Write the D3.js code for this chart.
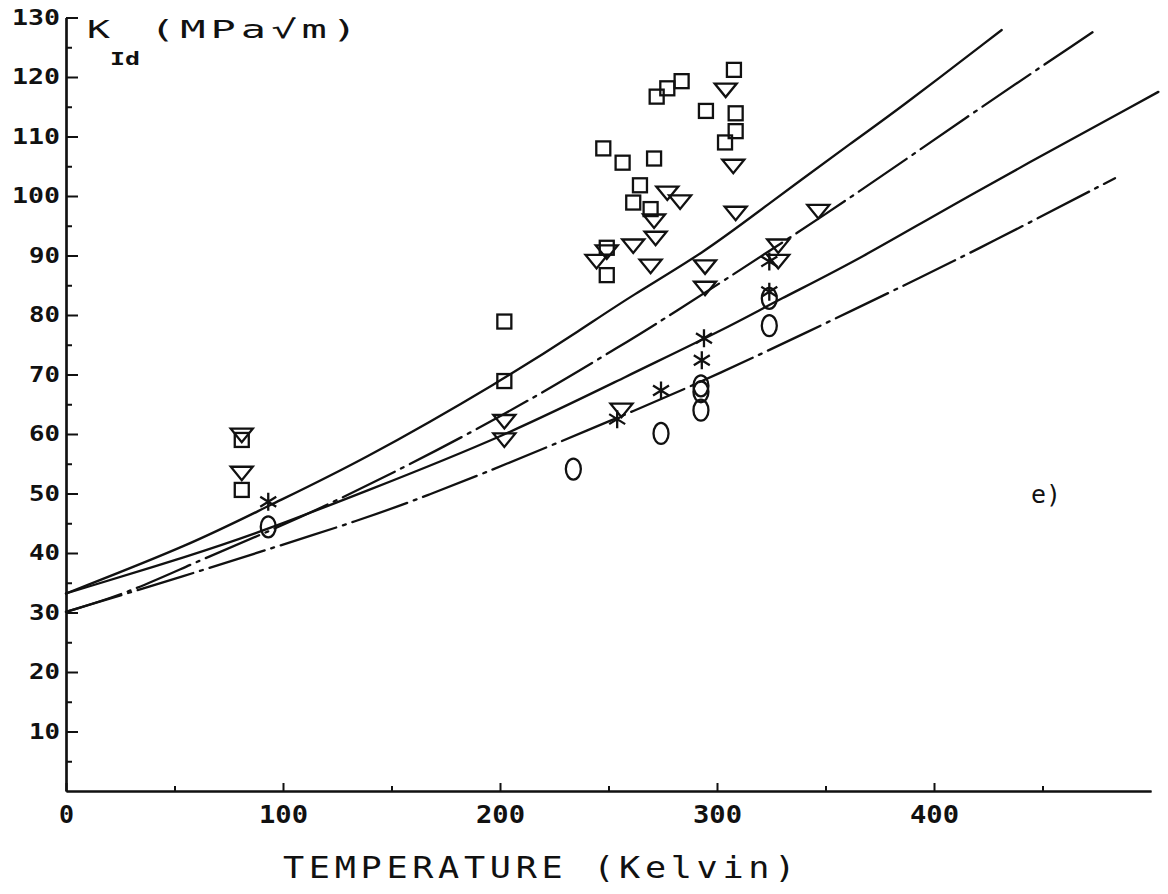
<!DOCTYPE html>
<html>
<head>
<meta charset="utf-8">
<script src="https://cdn.jsdelivr.net/npm/d3@7/dist/d3.min.js"></script>
<style>
  html, body { margin: 0; padding: 0; background: #fff; }
  svg { display: block; }
</style>
</head>
<body>
<svg id="chart" width="1168" height="894"></svg>
<script>
// ---------------- data ----------------
const xTickValues = [0, 100, 200, 300, 400];
const xMinorTicks = [50, 150, 250, 350, 450];
const yTickValues = [10, 20, 30, 40, 50, 60, 70, 80, 90, 100, 110, 120, 130];
const yMinorTicks = [5, 15, 25, 35, 45, 55, 65, 75, 85, 95, 105, 115, 125];

const xTitle = "TEMPERATURE (Kelvin)";
const yTitleMain = "K";
const yTitleSub = "Id";
const yTitleUnit = "(MPa√m)";
const panelLabel = "e)";

// squares [T (K), KId]
const squareData = [
  [81, 59.0], [81, 50.6], [202, 78.9], [202, 68.9],
  [247.6, 108.0], [249.2, 91.3], [249.2, 86.7], [256.5, 105.6],
  [261.4, 98.9], [264.5, 101.8], [269.4, 97.8], [271, 106.3],
  [272.2, 116.7], [277.1, 118.1], [283.7, 119.3], [294.9, 114.3],
  [303.7, 109.0], [308.6, 110.9], [308.6, 113.9], [307.8, 121.2]
];
// downward triangles
const triangleData = [
  [81, 59.8], [81, 53.4], [202, 62.1], [202, 59.0],
  [244.5, 89.0], [249.2, 90.6], [256, 64.0], [261.4, 91.6],
  [269.4, 88.2], [271, 95.8], [271.7, 92.9], [277.1, 100.5],
  [283, 99.0], [294.5, 88.1], [294.5, 84.5], [304, 117.8],
  [307.5, 105.0], [308.6, 97.1], [328.2, 91.6], [328.2, 89.0],
  [346.7, 97.4]
];
// asterisks
const starData = [
  [93.2, 48.6], [254, 62.5], [274.2, 67.3], [293, 72.4],
  [294, 76.1], [324.1, 83.9], [324.1, 89.0]
];
// open ellipses
const circleData = [
  [93.2, 44.4], [233.8, 54.1], [274.2, 60.1], [292.6, 64.0],
  [292.6, 67.1], [292.6, 68.1], [324.1, 78.2], [324.1, 82.8]
];

// fitted curves
const curveUpperSolid = [
  [0, 33.2], [58.7, 41.6], [92.4, 47.8], [135.5, 55.3], [201.5, 69.1],
  [238.4, 77.8], [259.9, 83.1], [294.5, 90.6], [319.8, 97.6], [365.9, 110.0],
  [381.2, 113.9], [431.2, 127.9]
];
const curveUpperDashDot = [
  [0, 30.1], [28, 33.2], [58.7, 38.3], [89.4, 43.0], [127.8, 49.2], [201.5, 62.9],
  [259.9, 75.8], [269.1, 77.8], [353.6, 97.6], [415, 113.3], [473.4, 127.6]
];
const curveLowerSolid = [
  [0, 33.2], [58.7, 39.7], [92.4, 43.9], [135.5, 50.0], [201.5, 59.5],
  [259.9, 70.0], [304.5, 77.8], [327.5, 82.4], [365.9, 89.4],
  [412, 99.3], [503.4, 117.5]
];
const curveLowerDashDot = [
  [0, 30.1], [58.7, 36.6], [89.4, 40.2], [135.5, 45.5], [167.7, 49.8],
  [200, 54.5], [252.2, 62.4], [298.3, 69.6], [364.4, 81.1],
  [419.7, 90.9], [483.4, 103.0]
];

// ---------------- drawing ----------------
const svg = d3.select("#chart");
svg.append("rect").attr("width", 1168).attr("height", 894).attr("fill", "#fff");

const x = d3.scaleLinear().domain([0, 500]).range([66, 1151]);
const y = d3.scaleLinear().domain([0, 130]).range([791, 17.5]);

const INK = "#111";
const monoFont = "'DejaVu Sans Mono', 'Liberation Mono', monospace";

// axes
const yAxis = svg.append("g").attr("transform", `translate(${x(0)},0)`)
  .call(d3.axisLeft(y).tickValues(yTickValues).tickSizeInner(-12).tickSizeOuter(0).tickPadding(6));
const yMinor = svg.append("g").attr("transform", `translate(${x(0)},0)`)
  .call(d3.axisLeft(y).tickValues(yMinorTicks).tickSizeInner(-6).tickSizeOuter(0).tickFormat(""));
const xAxis = svg.append("g").attr("transform", `translate(0,${y(0)})`)
  .call(d3.axisBottom(x).tickValues(xTickValues).tickSizeInner(-8).tickSizeOuter(0).tickPadding(15));
const xMinor = svg.append("g").attr("transform", `translate(0,${y(0)})`)
  .call(d3.axisBottom(x).tickValues(xMinorTicks).tickSizeInner(-5).tickSizeOuter(0).tickFormat(""));

[yAxis, yMinor, xAxis, xMinor].forEach(g => {
  g.select(".domain").attr("stroke", INK).attr("stroke-width", 2.2);
  g.selectAll(".tick line").attr("stroke", INK).attr("stroke-width", 2);
});
[yAxis, xAxis].forEach(g => {
  g.selectAll(".tick text")
    .attr("fill", INK)
    .style("font-family", monoFont)
    .style("font-weight", "bold")
    .style("font-size", "21px");
});
yAxis.selectAll(".tick text").each(function (d) {
  const n = String(d).length;
  d3.select(this).attr("textLength", 17 * n - 3).attr("lengthAdjust", "spacingAndGlyphs");
});
xAxis.selectAll(".tick text").style("font-size", "24px").each(function (d) {
  const n = String(d).length;
  d3.select(this).attr("textLength", 17 * n - 2).attr("lengthAdjust", "spacingAndGlyphs");
});

// curves
const line = d3.line().x(d => x(d[0])).y(d => y(d[1])).curve(d3.curveBasis);
const curves = [
  { data: curveUpperSolid, dash: null },
  { data: curveUpperDashDot, dash: "58,7,3,7" },
  { data: curveLowerSolid, dash: null },
  { data: curveLowerDashDot, dash: "58,7,3,7" }
];
svg.append("g").selectAll("path").data(curves).join("path")
  .attr("d", c => line(c.data))
  .attr("fill", "none")
  .attr("stroke", INK)
  .attr("stroke-width", 2.3)
  .attr("stroke-linecap", "round")
  .attr("stroke-dasharray", c => c.dash);

// markers
const mk = svg.append("g").attr("fill", "none").attr("stroke", INK).attr("stroke-width", 2.3);
mk.selectAll("rect.sq").data(squareData).join("rect").attr("class", "sq")
  .attr("x", d => x(d[0]) - 7).attr("y", d => y(d[1]) - 7)
  .attr("width", 14).attr("height", 14);
mk.selectAll("path.tri").data(triangleData).join("path").attr("class", "tri")
  .attr("d", d => {
    const cx = x(d[0]), cy = y(d[1]);
    return `M${cx - 11},${cy - 6.5}L${cx + 11},${cy - 6.5}L${cx},${cy + 7}Z`;
  });
mk.selectAll("path.star").data(starData).join("path").attr("class", "star")
  .attr("d", d => {
    const cx = x(d[0]), cy = y(d[1]);
    return `M${cx},${cy - 9}L${cx},${cy + 9}` +
           `M${cx - 8},${cy - 5}L${cx + 8},${cy + 5}` +
           `M${cx - 8},${cy + 5}L${cx + 8},${cy - 5}`;
  });
mk.selectAll("ellipse.ci").data(circleData).join("ellipse").attr("class", "ci")
  .attr("cx", d => x(d[0])).attr("cy", d => y(d[1]))
  .attr("rx", 7.5).attr("ry", 10.5);

// titles
svg.append("text")
  .attr("x", 283).attr("y", 878)
  .attr("textLength", 517).attr("lengthAdjust", "spacingAndGlyphs")
  .style("font-family", monoFont).style("font-size", "30px").style("letter-spacing", "4px")
  .attr("fill", INK)
  .text(xTitle);

svg.append("text")
  .attr("x", 87).attr("y", 38)
  .attr("textLength", 23).attr("lengthAdjust", "spacingAndGlyphs")
  .style("font-family", monoFont).style("font-size", "25px")
  .attr("fill", INK).text(yTitleMain);
svg.append("text")
  .attr("x", 110).attr("y", 65)
  .attr("textLength", 30).attr("lengthAdjust", "spacingAndGlyphs")
  .style("font-family", monoFont).style("font-size", "17px").style("font-weight", "bold")
  .attr("fill", INK).text(yTitleSub);
svg.append("text")
  .attr("x", 150).attr("y", 38)
  .attr("textLength", 212).attr("lengthAdjust", "spacingAndGlyphs")
  .style("font-family", monoFont).style("font-size", "25px").style("letter-spacing", "3px")
  .attr("fill", INK).text(yTitleUnit);

svg.append("text")
  .attr("x", 1031).attr("y", 503)
  .attr("textLength", 30).attr("lengthAdjust", "spacingAndGlyphs")
  .style("font-family", monoFont).style("font-size", "24px")
  .attr("fill", INK).text(panelLabel);
</script>
</body>
</html>
